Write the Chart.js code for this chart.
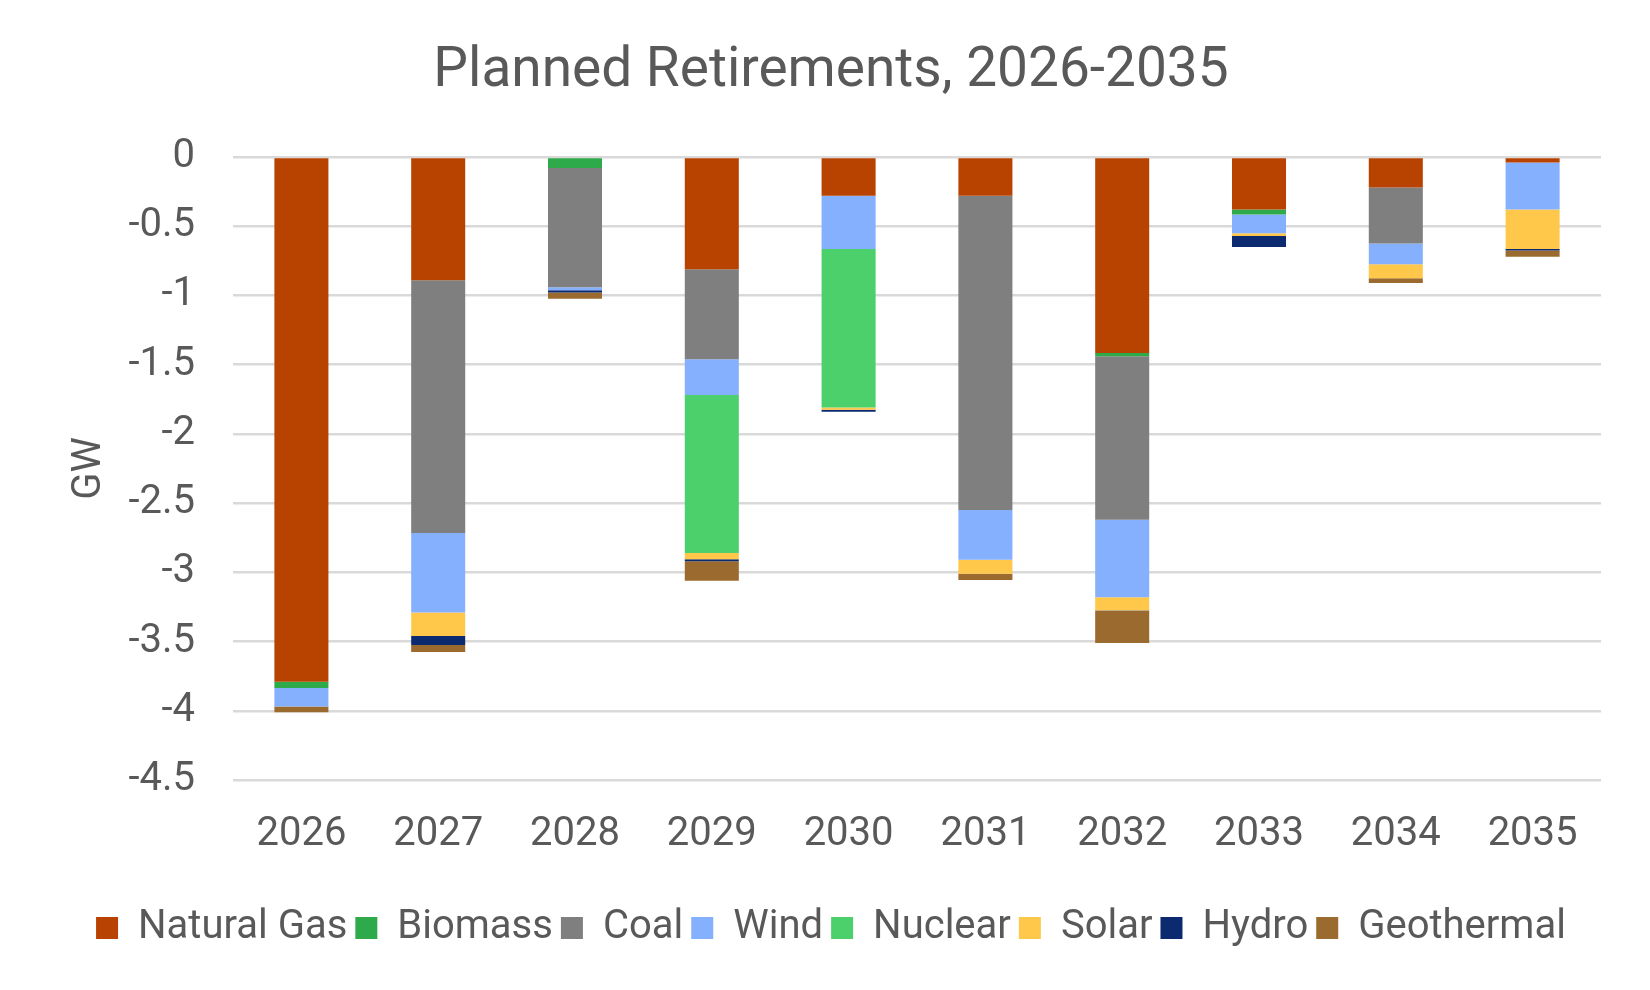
<!DOCTYPE html>
<html>
<head>
<meta charset="utf-8">
<title>Planned Retirements, 2026-2035</title>
<script src="https://cdn.jsdelivr.net/npm/chart.js@4.4.1/dist/chart.umd.min.js"></script>
<style>
  html, body { margin: 0; padding: 0; background: #fff; }
  #wrap { width: 1650px; height: 990px; }
</style>
</head>
<body>
<div id="wrap"><canvas id="chart-area-1" width="1650" height="990"></canvas></div>
<script>
// years on the x axis
var years = ['2026', '2027', '2028', '2029', '2030', '2031', '2032', '2033', '2034', '2035'];

// retirements per fuel, GW (negative = retired)
var naturalGas = [-3.79, -0.89, 0, -0.81, -0.28, -0.28, -1.415, -0.38, -0.22, -0.04];
var biomass    = [-0.045, 0, -0.08, 0, 0, 0, -0.025, -0.035, 0, 0];
var coal       = [0, -1.825, -0.86, -0.65, 0, -2.27, -1.18, 0, -0.405, 0];
var wind       = [-0.135, -0.575, -0.023, -0.26, -0.385, -0.36, -0.56, -0.135, -0.15, -0.34];
var nuclear    = [0, 0, 0, -1.14, -1.145, 0, 0, 0, 0, 0];
var solar      = [0, -0.17, 0, -0.045, -0.015, -0.1, -0.095, -0.02, -0.1, -0.285];
var hydro      = [0, -0.065, -0.015, -0.015, -0.015, 0, -0.005, -0.08, 0, -0.01];
var geothermal = [-0.04, -0.05, -0.045, -0.14, 0, -0.045, -0.23, 0, -0.035, -0.045];

var yTicks = [0, -0.5, -1, -1.5, -2, -2.5, -3, -3.5, -4, -4.5];

var textColor = '#595959';
var font = 'Roboto';

function series(label, data, color){
	return {
		label: label,
		data: data,
		backgroundColor: color,
		borderWidth: 0,
		barPercentage: 0.395,
		categoryPercentage: 1.0
	};
}

var barChartData = {
	labels: years,
	datasets: [
		series('Natural Gas', naturalGas, '#B84200'),
		series('Biomass', biomass, '#2EAA4A'),
		series('Coal', coal, '#7F7F7F'),
		series('Wind', wind, '#85B0FE'),
		series('Nuclear', nuclear, '#4CD06C'),
		series('Solar', solar, '#FFC84A'),
		series('Hydro', hydro, '#0B2A6F'),
		series('Geothermal', geothermal, '#9A6A2F')
	]
};

var ctx = document.getElementById('chart-area-1').getContext('2d');
window.myBar = new Chart(ctx, {
	type: 'bar',
	data: barChartData,
	options: {
		responsive: false,
		animation: false,
		devicePixelRatio: 1,
		layout: {
			padding: { top: 0, left: 61, right: 49, bottom: 32 }
		},
		plugins: {
			title: {
				display: true,
				text: 'Planned Retirements, 2026-2035',
				color: textColor,
				font: { family: font, size: 55, weight: 'normal', lineHeight: 1.2 },
				padding: { top: 39, bottom: 52 }
			},
			legend: {
				position: 'bottom',
				labels: {
					color: textColor,
					font: { family: font, size: 40 },
					boxWidth: 22,
					boxHeight: 22,
					padding: 8
				}
			},
			tooltip: { enabled: false }
		},
		scales: {
			x: {
				stacked: true,
				grid: { display: false, drawTicks: false },
				border: { display: false },
				ticks: {
					color: textColor,
					font: { family: font, size: 40 },
					padding: 31,
					maxRotation: 0
				},
				afterFit: function(scale){ scale.height = 120; }
			},
			y: {
				stacked: true,
				min: -4.5,
				max: 0,
				grid: { color: '#D9D9D9', lineWidth: 2.5, drawTicks: false },
				border: { display: false },
				afterBuildTicks: function(scale){
					scale.ticks = yTicks.map(function(v){ return { value: v }; });
				},
				ticks: {
					color: textColor,
					font: { family: font, size: 40 },
					padding: 38,
					callback: function(v){ return String(v); }
				},
				title: {
					display: true,
					text: 'GW',
					color: textColor,
					font: { family: font, size: 40, lineHeight: 1.2 },
					padding: { top: 5, bottom: 0 }
				},
				afterFit: function(scale){ scale.width = 172; }
			}
		}
	}
});
</script>
</body>
</html>
